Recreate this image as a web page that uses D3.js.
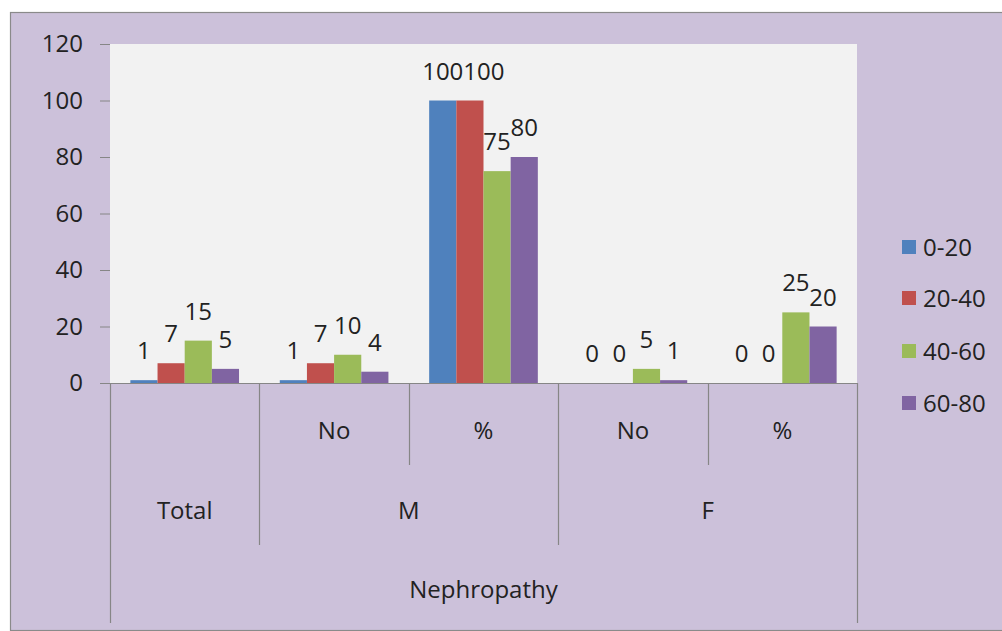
<!DOCTYPE html>
<html>
<head>
<meta charset="utf-8">
<script src="https://cdn.jsdelivr.net/npm/d3@7"></script>
<style>
  html, body { margin: 0; padding: 0; background: #ffffff; }
  svg { display: block; }
  text { font-family: "Open Sans", Lato, sans-serif; fill: #222222; }
</style>
</head>
<body>
<svg id="chart" width="1002" height="631"></svg>
<script>
// ---- data ----
const categories = ["Total", "M-No", "M-%", "F-No", "F-%"];
const level1Labels = ["", "No", "%", "No", "%"];
const level2Groups = ["Total", "M", "F"];
const level2Spans = [[0, 1], [1, 3], [3, 5]];
const level3Label = "Nephropathy";
const seriesNames = ["0-20", "20-40", "40-60", "60-80"];
const seriesColors = ["#4F81BD", "#C0504D", "#9BBB59", "#8064A2"];
const s0_20 = [1, 1, 100, 0, 0];
const s20_40 = [7, 7, 100, 0, 0];
const s40_60 = [15, 10, 75, 5, 25];
const s60_80 = [5, 4, 80, 1, 20];
const yTicks = [0, 20, 40, 60, 80, 100, 120];

const seriesValues = [s0_20, s20_40, s40_60, s60_80];

const svg = d3.select("#chart");
const FS = "24px";

// layout
const plotL = 110, plotR = 857, plotT = 44, plotB = 383;
const lvl1B = 465, lvl2B = 545, lvl3B = 623;

// outer chart area
svg.append("rect")
  .attr("x", 10.5).attr("y", 12.5).attr("width", 1000).attr("height", 618)
  .attr("fill", "#CCC1DA").attr("stroke", "#8a8a8a").attr("stroke-width", 1.2);

// plot area
svg.append("rect")
  .attr("x", plotL).attr("y", plotT).attr("width", plotR - plotL).attr("height", plotB - plotT)
  .attr("fill", "#F2F2F2");

const y = d3.scaleLinear().domain([0, 120]).range([plotB, plotT]);
const x = d3.scaleBand().domain(d3.range(categories.length)).range([plotL, plotR]).paddingInner(0).paddingOuter(0);
const bw = x.bandwidth();
const gap = bw * 1.5 / 5.5;
const xs = d3.scaleBand().domain(d3.range(seriesNames.length)).range([gap / 2, bw - gap / 2]).padding(0);

// y axis
const yAxis = d3.axisLeft(y).tickValues(yTicks).tickSize(10).tickPadding(17);
const ya = svg.append("g").attr("transform", `translate(${plotL},0)`).call(yAxis);
ya.select(".domain").remove();
ya.selectAll(".tick line").attr("stroke", "#868686");
ya.selectAll(".tick text").style("font-size", FS).style("font-family", "'Open Sans', Lato, sans-serif").attr("fill", "#222222");

// bars
const gBars = svg.append("g");
seriesValues.forEach((vals, si) => {
  gBars.append("g").attr("fill", seriesColors[si])
    .selectAll("rect").data(vals).join("rect")
    .attr("x", (v, ci) => x(ci) + xs(si))
    .attr("width", xs.bandwidth())
    .attr("y", v => y(v))
    .attr("height", v => plotB - y(v));
});

// data labels (with simple collision avoidance within a category)
const gLabels = svg.append("g");
categories.forEach((c, ci) => {
  let prev = null;
  seriesValues.forEach((vals, si) => {
    const v = vals[ci];
    const t = gLabels.append("text")
      .attr("x", x(ci) + xs(si) + xs.bandwidth() / 2)
      .attr("y", y(v) - 21)
      .attr("text-anchor", "middle")
      .style("font-size", FS)
      .text(v);
    const b = t.node().getBBox();
    if (prev && b.x < prev.x + prev.width - 1 && Math.abs(b.y - prev.y) < b.height * 0.6) {
      const shift = prev.x + prev.width - b.x;
      t.attr("x", +t.attr("x") + shift);
    }
    prev = t.node().getBBox();
  });
});

// x axis line
svg.append("line").attr("x1", 100).attr("x2", plotR).attr("y1", plotB + 0.5).attr("y2", plotB + 0.5)
  .attr("stroke", "#868686").attr("stroke-width", 1.2);

// boundary lines for hierarchical categories
const boundaries = d3.range(categories.length + 1).map(i => {
  let bottom = lvl1B;
  if (i === 0 || i === categories.length) bottom = lvl3B;
  else if (level2Spans.some(s => s[0] === i)) bottom = lvl2B;
  return { px: i === categories.length ? plotR : x(i), bottom };
});
svg.append("g").selectAll("line").data(boundaries).join("line")
  .attr("x1", d => Math.round(d.px) + 0.5).attr("x2", d => Math.round(d.px) + 0.5)
  .attr("y1", plotB).attr("y2", d => d.bottom)
  .attr("stroke", "#868686").attr("stroke-width", 1.2);

// level 1 labels
svg.append("g").selectAll("text").data(level1Labels).join("text")
  .attr("x", (d, i) => x(i) + bw / 2)
  .attr("y", 439)
  .attr("text-anchor", "middle")
  .style("font-size", FS)
  .text(d => d);

// level 2 labels
svg.append("g").selectAll("text").data(level2Groups).join("text")
  .attr("x", (d, i) => (x(level2Spans[i][0]) + (level2Spans[i][1] === categories.length ? plotR : x(level2Spans[i][1]))) / 2)
  .attr("y", 519)
  .attr("text-anchor", "middle")
  .style("font-size", FS)
  .text(d => d);

// level 3 label
svg.append("text")
  .attr("x", (plotL + plotR) / 2)
  .attr("y", 598)
  .attr("text-anchor", "middle")
  .style("font-size", FS)
  .text(level3Label);

// legend
const legendY = [247, 298, 351, 403];
const lg = svg.append("g").selectAll("g").data(seriesNames).join("g")
  .attr("transform", (d, i) => `translate(902,${legendY[i]})`);
lg.append("rect").attr("x", 0).attr("y", -7).attr("width", 14).attr("height", 14)
  .attr("fill", (d, i) => seriesColors[i]);
lg.append("text").attr("x", 21).attr("y", 9).style("font-size", FS).text(d => d);
</script>
</body>
</html>
